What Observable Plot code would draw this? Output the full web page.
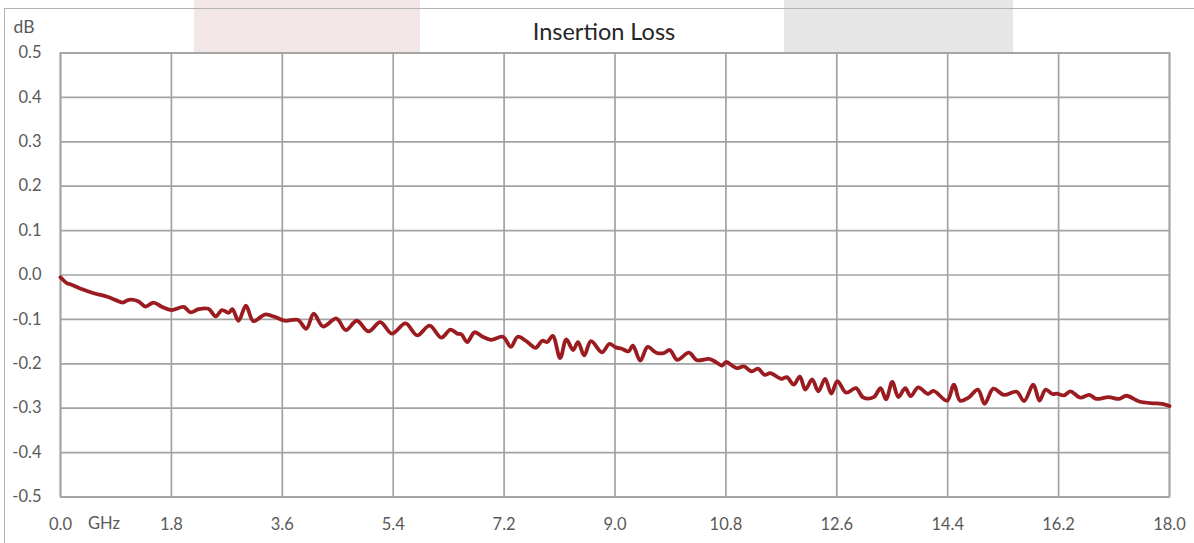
<!DOCTYPE html>
<html>
<head>
<meta charset="utf-8">
<script src="https://cdn.jsdelivr.net/npm/d3@7"></script>
<script src="https://cdn.jsdelivr.net/npm/@observablehq/plot@0.6"></script>
<style>
  html, body { margin: 0; padding: 0; background: #fff; }
  #wrap { position: relative; width: 1194px; height: 543px; overflow: hidden; font-family: Lato, "Open Sans", sans-serif; }
  .deco { position: absolute; }
  #chart { position: absolute; left: 0; top: 0; }
</style>
</head>
<body>
<div id="wrap">
  <div class="deco" style="left:194px;top:0;width:226px;height:53px;background:#f3e6e6;"></div>
  <div class="deco" style="left:784px;top:0;width:229px;height:54px;background:#e6e6e6;"></div>
  <div class="deco" style="left:4px;top:8px;width:1300px;height:700px;border-left:1.5px solid #b3b3b3;border-top:1.5px solid #b3b3b3;"></div>
  <div id="chart"></div>
</div>
<script>
const title = "Insertion Loss";
const yUnit = "dB";
const xUnit = "GHz";

const xTicks = [0, 1.8, 3.6, 5.4, 7.2, 9.0, 10.8, 12.6, 14.4, 16.2, 18.0];
const yTicks = [-0.5, -0.4, -0.3, -0.2, -0.1, 0, 0.1, 0.2, 0.3, 0.4, 0.5];

const freq = [0.00,0.11,0.16,0.33,0.54,0.76,0.89,1.01,1.11,1.26,
  1.38,1.51,1.65,1.80,2.00,2.11,2.24,2.40,2.52,2.62,
  2.73,2.79,2.89,3.01,3.13,3.32,3.49,3.64,3.85,3.99,
  4.11,4.26,4.48,4.63,4.81,5.00,5.19,5.38,5.60,5.79,
  5.99,6.18,6.33,6.44,6.51,6.60,6.72,6.85,6.99,7.18,
  7.31,7.42,7.56,7.71,7.82,7.90,7.99,8.11,8.21,8.32,
  8.40,8.50,8.61,8.79,8.91,9.01,9.11,9.22,9.29,9.41,
  9.53,9.67,9.79,9.89,10.01,10.20,10.33,10.52,10.60,10.74,
  10.80,10.98,11.09,11.22,11.32,11.43,11.52,11.70,11.79,11.90,
  12.00,12.09,12.20,12.30,12.41,12.51,12.61,12.75,12.91,13.03,
  13.20,13.31,13.40,13.50,13.60,13.71,13.80,13.92,14.08,14.17,
  14.39,14.50,14.60,14.74,14.89,15.00,15.14,15.31,15.52,15.64,
  15.79,15.89,15.99,16.10,16.17,16.29,16.39,16.55,16.70,16.81,
  17.01,17.18,17.30,17.51,17.73,17.88,18.00];

const loss = [-0.005,-0.019,-0.021,-0.031,-0.041,-0.049,-0.056,-0.062,-0.056,-0.059,
  -0.071,-0.062,-0.072,-0.079,-0.072,-0.084,-0.077,-0.076,-0.093,-0.079,
  -0.085,-0.077,-0.103,-0.069,-0.104,-0.089,-0.095,-0.103,-0.101,-0.121,
  -0.087,-0.116,-0.098,-0.124,-0.103,-0.127,-0.106,-0.132,-0.109,-0.136,
  -0.114,-0.141,-0.123,-0.132,-0.134,-0.151,-0.129,-0.139,-0.146,-0.139,
  -0.162,-0.139,-0.149,-0.164,-0.148,-0.151,-0.137,-0.187,-0.145,-0.169,
  -0.151,-0.181,-0.149,-0.174,-0.155,-0.163,-0.166,-0.172,-0.159,-0.193,
  -0.162,-0.175,-0.176,-0.169,-0.191,-0.175,-0.192,-0.189,-0.193,-0.204,
  -0.196,-0.210,-0.206,-0.217,-0.211,-0.225,-0.221,-0.234,-0.230,-0.247,
  -0.229,-0.258,-0.235,-0.262,-0.234,-0.267,-0.239,-0.265,-0.255,-0.276,
  -0.275,-0.255,-0.280,-0.241,-0.275,-0.255,-0.273,-0.253,-0.268,-0.261,
  -0.283,-0.247,-0.283,-0.276,-0.258,-0.290,-0.256,-0.270,-0.263,-0.284,
  -0.247,-0.283,-0.258,-0.268,-0.267,-0.271,-0.262,-0.276,-0.270,-0.279,
  -0.275,-0.279,-0.272,-0.285,-0.289,-0.290,-0.295];

const data = freq.map((f, i) => ({f, v: loss[i]}));
const fmt = d => (Math.abs(d) < 1e-9 ? 0 : d).toFixed(1);
const gridColor = "#a3a3a3";
const textColor = "#595959";

const chart = Plot.plot({
  width: 1194,
  height: 543,
  marginLeft: 60,
  marginRight: 25,
  marginTop: 52.5,
  marginBottom: 46.5,
  style: {background: "transparent", fontFamily: "Lato, 'Open Sans', sans-serif", fontSize: "16.5px", color: textColor},
  x: {domain: [0, 18]},
  y: {domain: [-0.5, 0.5]},
  marks: [
    Plot.gridX(xTicks, {stroke: gridColor, strokeOpacity: 1, strokeWidth: 1.7}),
    Plot.gridY(yTicks, {stroke: gridColor, strokeOpacity: 1, strokeWidth: 1.7}),
    Plot.frame({stroke: gridColor, strokeWidth: 1.7}),
    Plot.axisX({ticks: xTicks, tickFormat: fmt, tickSize: 0, tickPadding: 21, fontSize: 16.5, label: null}),
    Plot.axisY({ticks: yTicks, tickFormat: fmt, tickSize: 0, tickPadding: 19, fontSize: 16.5, label: null}),
    Plot.line(data, {x: "f", y: "v", stroke: "#9b1c20", strokeWidth: 3.8, curve: "catmull-rom"}),
    Plot.text([title], {frameAnchor: "top", lineAnchor: "middle", dx: -11, dy: -20.5, fontSize: 23.5, fill: "#262626"}),
    Plot.text([yUnit], {frameAnchor: "top-left", textAnchor: "start", lineAnchor: "middle", dx: -47, dy: -26, fontSize: 17.5, fill: textColor}),
    Plot.text([xUnit], {frameAnchor: "bottom-left", textAnchor: "start", lineAnchor: "middle", dx: 27.5, dy: 26.5, fontSize: 16.5, fill: textColor})
  ]
});
document.getElementById("chart").appendChild(chart);
</script>
</body>
</html>
